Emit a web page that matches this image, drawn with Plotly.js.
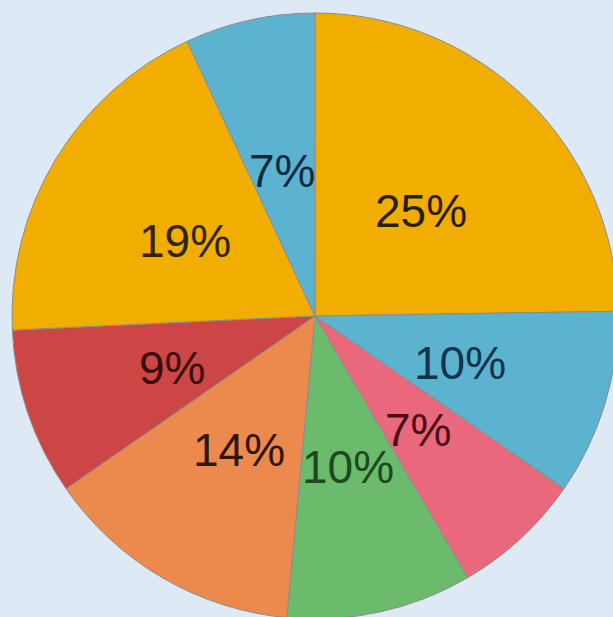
<!DOCTYPE html>
<html>
<head>
<meta charset="utf-8">
<script src="https://cdn.plot.ly/plotly-3.0.1.min.js"></script>
<style>
  html, body { margin: 0; padding: 0; overflow: hidden; width: 613px; height: 617px;
    background: #dde9f4; }
  #chart { width: 630px; height: 632px; }
</style>
</head>
<body>
<div id="chart"></div>
<script>
// Data (clockwise from 12 o'clock)
const labels = ["A", "B", "C", "D", "E", "F", "G", "H"];
const values = [25, 10, 7, 10, 14, 9, 19, 7];
const sliceColors = ["#f2ae00", "#5cb3d0", "#e9687c", "#6cba6c", "#ec8a4e", "#cc4646", "#f2ae00", "#5cb3d0"];
const textColors = ["#2a1e00", "#13344a", "#4a0c14", "#1c4a1e", "#2e1606", "#3a0c0c", "#332400", "#0e2a40"];

const W = 630, H = 632;
const cx = 315, cy = 316, R = 303;
const labelFrac = 0.5;

const total = values.reduce((a, b) => a + b, 0);
const annotations = [];
let cum = 0;
values.forEach((v, i) => {
  const mid = (cum + v / 2) / total * 2 * Math.PI;
  cum += v;
  const px = cx + R * labelFrac * Math.sin(mid);
  const py = cy - R * labelFrac * Math.cos(mid);
  annotations.push({
    x: px / W, y: 1 - py / H, xref: "paper", yref: "paper",
    text: v + "%", showarrow: false, xanchor: "center", yanchor: "middle",
    yshift: -3,
    font: { family: "Liberation Sans, Arial, sans-serif", size: 46, color: textColors[i] }
  });
});

const trace = {
  type: "pie",
  labels: labels,
  values: values,
  sort: false,
  direction: "clockwise",
  rotation: 0,
  marker: { colors: sliceColors, line: { color: "#8c8c8c", width: 1 } },
  textinfo: "none",
  hoverinfo: "none",
  domain: { x: [(cx - R) / W, (cx + R) / W], y: [1 - (cy + R) / H, 1 - (cy - R) / H] }
};

const layout = {
  width: W, height: H,
  margin: { l: 0, r: 0, t: 0, b: 0, pad: 0 },
  showlegend: false,
  paper_bgcolor: "#dde9f4",
  plot_bgcolor: "#dde9f4",
  annotations: annotations
};

Plotly.newPlot("chart", [trace], layout, { displayModeBar: false, staticPlot: true });
</script>
</body>
</html>
